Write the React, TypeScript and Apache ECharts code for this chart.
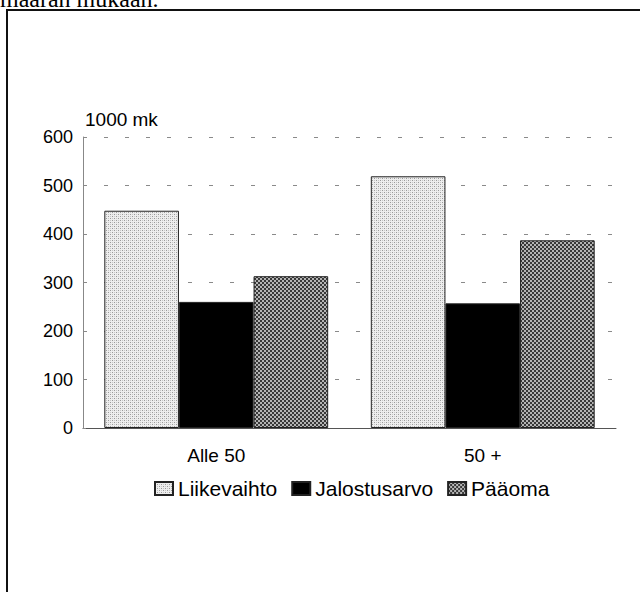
import React, { useEffect, useRef } from "react";
import * as echarts from "echarts";

const categories = ["Alle 50", "50 +"];
const seriesNames = ["Liikevaihto", "Jalostusarvo", "Pääoma"];
const liikevaihto = [448, 519];
const jalostusarvo = [260, 257];
const paaoma = [313, 387];
const yTicks = [0, 100, 200, 300, 400, 500, 600];
const yUnit = "1000 mk";
const caption = "määrän mukaan.";

function makePattern(kind: "dots" | "checker"): any {
  const c = document.createElement("canvas");
  c.width = 4;
  c.height = 4;
  const ctx = c.getContext("2d")!;
  if (kind === "dots") {
    ctx.fillStyle = "#eeeeee";
    ctx.fillRect(0, 0, 4, 4);
    ctx.fillStyle = "#9a9a9a";
    ctx.fillRect(0, 0, 1, 1);
    ctx.fillRect(2, 2, 1, 1);
    ctx.fillStyle = "#c8c8c8";
    ctx.fillRect(2, 0, 1, 1);
    ctx.fillRect(0, 2, 1, 1);
  } else {
    ctx.fillStyle = "#b4b4b4";
    ctx.fillRect(0, 0, 4, 4);
    ctx.fillStyle = "#383838";
    ctx.fillRect(0, 0, 2, 2);
    ctx.fillRect(2, 2, 2, 2);
  }
  return { image: c, repeat: "repeat" };
}

export default function App() {
  const ref = useRef<HTMLDivElement>(null);
  useEffect(() => {
    document.body.style.margin = "0";
    const chart = echarts.init(ref.current!, undefined, { renderer: "svg" });
    const font = "Liberation Sans, Arial, sans-serif";
    const colors = [makePattern("dots"), "#000000", makePattern("checker")];
    const values = [liikevaihto, jalostusarvo, paaoma];
    chart.setOption({
      animation: false,
      backgroundColor: "#ffffff",
      textStyle: { fontFamily: font },
      grid: { left: 83, right: 24, top: 137, bottom: 164, containLabel: false },
      legend: {
        data: seriesNames,
        left: 154,
        top: 478,
        padding: 0,
        itemWidth: 18,
        itemHeight: 13,
        itemGap: 14,
        icon: "rect",
        textStyle: { fontSize: 21, color: "#000", fontFamily: font },
      },
      xAxis: {
        type: "category",
        data: categories,
        axisLine: { show: true, lineStyle: { color: "#555", width: 1 } },
        axisTick: { show: false },
        axisLabel: { fontSize: 19, color: "#000", margin: 18, fontFamily: font },
        splitLine: { show: false },
      },
      yAxis: {
        type: "value",
        min: yTicks[0],
        max: yTicks[yTicks.length - 1],
        interval: 100,
        name: yUnit,
        nameLocation: "end",
        nameGap: 8,
        nameTextStyle: { fontSize: 19, color: "#000", align: "left", padding: [0, 0, 0, 2], fontFamily: font },
        axisLine: { show: true, lineStyle: { color: "#888", width: 1 } },
        axisTick: { show: true, inside: true, length: 3, lineStyle: { color: "#888" } },
        axisLabel: { fontSize: 18, color: "#000", margin: 10, fontFamily: font },
        splitLine: { show: true, lineStyle: { color: "#8a8a8a", width: 1, type: [4, 17] } },
      },
      series: seriesNames.map((name, i) => ({
        name,
        type: "bar",
        data: values[i],
        barGap: "0%",
        barCategoryGap: "16%",
        itemStyle: { color: colors[i], borderColor: "#222", borderWidth: 1 },
        emphasis: { disabled: true },
      })),
      graphic: [
        {
          type: "rect",
          shape: { x: 7, y: 10, width: 660, height: 620 },
          style: { fill: "none", stroke: "#111", lineWidth: 2 },
          silent: true,
        },
        {
          type: "text",
          x: 0,
          y: -1,
          style: {
            text: caption,
            font: '24px "Liberation Serif", "DejaVu Serif", serif',
            fill: "#000",
            verticalAlign: "middle",
            align: "left",
          },
          silent: true,
        },
      ],
    });
    return () => chart.dispose();
  }, []);
  return <div ref={ref} style={{ width: 640, height: 592 }} />;
}
